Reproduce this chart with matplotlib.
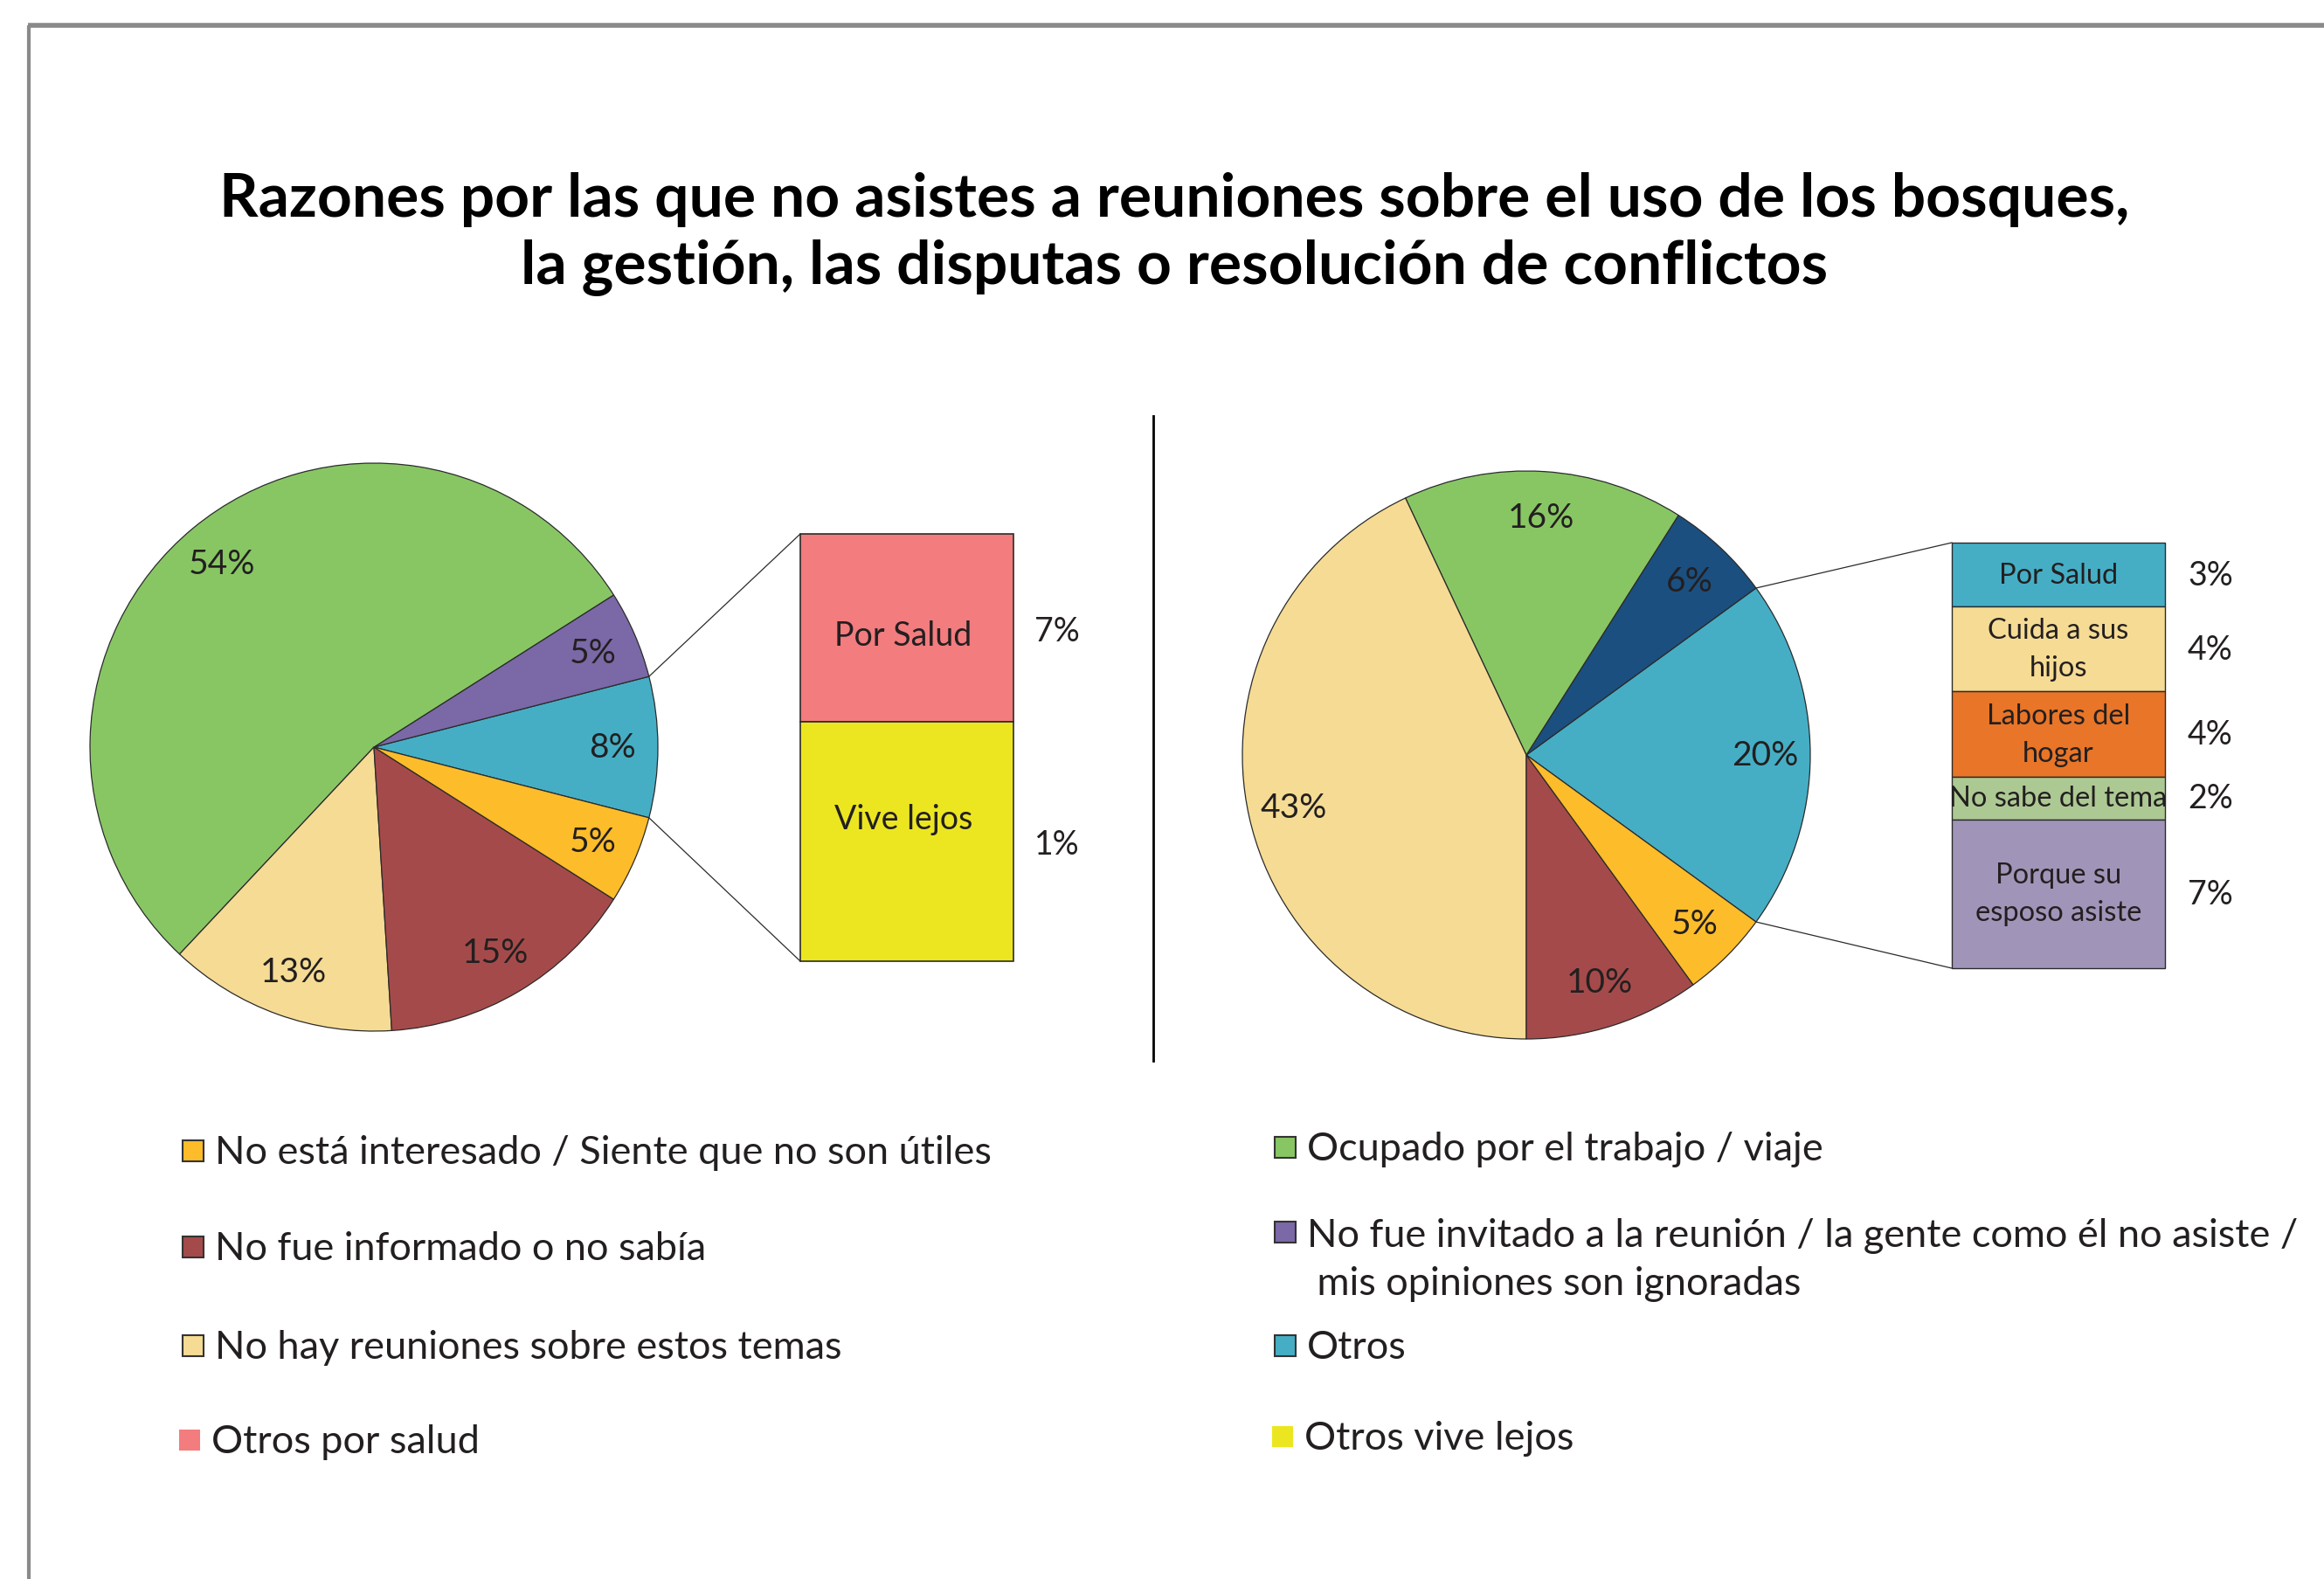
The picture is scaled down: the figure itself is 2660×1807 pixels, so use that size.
import matplotlib
matplotlib.use("Agg")
import matplotlib.pyplot as plt
from matplotlib.patches import Rectangle
import numpy as np

# ---------------- data ----------------
title = ("Razones por las que no asistes a reuniones sobre el uso de los bosques,\n"
         "la gestión, las disputas o resolución de conflictos")

left_labels = ["Otros", "No fue invitado", "Ocupado por el trabajo / viaje",
               "No hay reuniones", "No fue informado", "No está interesado"]
left_values = [8, 5, 54, 13, 15, 5]
left_colors = ["#45AEC5", "#7B68A6", "#88C664", "#F5DB94", "#A54A4A", "#FDBC2A"]

left_bar_labels = ["Por Salud", "Vive lejos"]
left_bar_pcts = ["7%", "1%"]
left_bar_shares = [44, 56]          # segment heights as drawn in the picture
left_bar_colors = ["#F27C7E", "#ECE621"]

right_labels = ["Otros", "Otro (azul oscuro)", "Ocupado por el trabajo / viaje",
                "No hay reuniones", "No fue informado", "No está interesado"]
right_values = [20, 6, 16, 43, 10, 5]
right_colors = ["#45AEC5", "#1B4F7F", "#88C664", "#F5DB94", "#A54A4A", "#FDBC2A"]

right_bar_labels = ["Por Salud", "Cuida a sus\nhijos", "Labores del\nhogar",
                    "No sabe del tema", "Porque su\nesposo asiste"]
right_bar_values = [3, 4, 4, 2, 7]
right_bar_colors = ["#45AEC5", "#F5DB94", "#E87528", "#ADC993", "#A095B8"]

legend_left = ["No está interesado / Siente que no son útiles",
               "No fue informado o no sabía",
               "No hay reuniones sobre estos temas",
               "Otros por salud"]
legend_left_colors = ["#FDBC2A", "#A54A4A", "#F5DB94", "#F27C7E"]
legend_right = ["Ocupado por el trabajo / viaje",
                "No fue invitado a la reunión / la gente como él no asiste /\n mis opiniones son ignoradas",
                "Otros",
                "Otros vive lejos"]
legend_right_colors = ["#88C664", "#7B68A6", "#45AEC5", "#ECE621"]

# ---------------- figure ----------------
W, H = 2660, 1808
plt.rcParams['font.family'] = ['Lato', 'DejaVu Sans']
TXT = "#231F20"
fig = plt.figure(figsize=(W / 100, H / 100), dpi=100)
ax = fig.add_axes([0, 0, 1, 1])


def Y(y):
    return H - y


edge = dict(edgecolor="#2b2b2b", linewidth=0.9)
R = 325

# left pie
lc = (428, Y(856))
wl, tl, al = ax.pie(left_values, colors=left_colors, startangle=-left_values[0] * 3.6 / 2,
                    counterclock=True, center=lc, radius=R, frame=True,
                    autopct=lambda p: f"{p:.0f}%", pctdistance=0.84,
                    wedgeprops=edge, textprops=dict(fontsize=28, color=TXT))

# right pie
rc = (1747, Y(865))
wr, tr, ar = ax.pie(right_values, colors=right_colors, startangle=-right_values[0] * 3.6 / 2,
                    counterclock=True, center=rc, radius=R, frame=True,
                    autopct=lambda p: f"{p:.0f}%", pctdistance=0.84,
                    wedgeprops=edge, textprops=dict(fontsize=28, color=TXT))

# left bar
lb_x0, lb_x1, lb_top, lb_bot = 916, 1160, Y(612), Y(1101)
tot = sum(left_bar_shares)
scale = (lb_top - lb_bot) / tot
bottom = lb_top
for lab, pct, v, c in zip(left_bar_labels, left_bar_pcts, left_bar_shares, left_bar_colors):
    h = v * scale
    ax.bar((lb_x0 + lb_x1) / 2, -h, bottom=bottom, width=lb_x1 - lb_x0, color=c,
           edgecolor="#2b2b2b", linewidth=1.2)
    bottom -= h
left_bar_text_y = [Y(728), Y(938)]
left_bar_pct_y = [Y(723), Y(967)]
for lab, pct, ty, py in zip(left_bar_labels, left_bar_pcts, left_bar_text_y, left_bar_pct_y):
    ax.text((lb_x0 + lb_x1) / 2 - 4, ty, lab, ha="center", va="center", fontsize=27, color=TXT)
    ax.text(1210, py, pct, ha="center", va="center", fontsize=27, color=TXT)

# connector lines left (from Otros wedge edges to bar corners)
t1, t2 = np.deg2rad(wl[0].theta2), np.deg2rad(wl[0].theta1)
p1 = (lc[0] + R * np.cos(t1), lc[1] + R * np.sin(t1))
p2 = (lc[0] + R * np.cos(t2), lc[1] + R * np.sin(t2))
ax.plot([p1[0], lb_x0], [p1[1], lb_top], color="#2b2b2b", lw=0.9)
ax.plot([p2[0], lb_x0], [p2[1], lb_bot], color="#2b2b2b", lw=0.9)

# right bar
rb_x0, rb_x1, rb_top, rb_bot = 2234, 2478, Y(622), Y(1109)
tot = sum(right_bar_values)
scale = (rb_top - rb_bot) / tot
bottom = rb_top
for lab, v, c in zip(right_bar_labels, right_bar_values, right_bar_colors):
    h = v * scale
    ax.bar((rb_x0 + rb_x1) / 2, -h, bottom=bottom, width=rb_x1 - rb_x0, color=c,
           edgecolor="#2b2b2b", linewidth=1.0)
    ax.text((rb_x0 + rb_x1) / 2, bottom - h / 2, lab, ha="center", va="center",
            fontsize=23.5, color=TXT, linespacing=1.55)
    ax.text(2530, bottom - h / 2, f"{v}%", ha="center", va="center", fontsize=27, color=TXT)
    bottom -= h

t1, t2 = np.deg2rad(wr[0].theta2), np.deg2rad(wr[0].theta1)
p1 = (rc[0] + R * np.cos(t1), rc[1] + R * np.sin(t1))
p2 = (rc[0] + R * np.cos(t2), rc[1] + R * np.sin(t2))
ax.plot([p1[0], rb_x0], [p1[1], rb_top], color="#2b2b2b", lw=0.9)
ax.plot([p2[0], rb_x0], [p2[1], rb_bot], color="#2b2b2b", lw=0.9)

# divider
ax.plot([1320, 1320], [Y(477), Y(1215)], color="black", lw=2)

# title
ax.text(1344, Y(268), title, ha="center", va="center", fontsize=50, fontweight="bold",
        color="black", linespacing=1.28)

# legends
sq = 24
LFS = 32.5
left_y = [1318, 1428, 1541, 1649]
for i, (lab, c, yy) in enumerate(zip(legend_left, legend_left_colors, left_y)):
    last = i == len(legend_left) - 1
    x0 = 205 if last else 209
    ax.add_patch(Rectangle((x0, Y(yy) - sq / 2), sq, sq, facecolor=c,
                           edgecolor="none" if last else "#333333", lw=1.5))
    ax.text(x0 + 37, Y(yy) - 2, lab, ha="left", va="center", fontsize=LFS, color=TXT)

right_sq_y = [1314, 1411, 1541, 1645]
right_txt_y = [1314, 1440, 1541, 1645]
for i, (lab, c, yy, ty) in enumerate(zip(legend_right, legend_right_colors, right_sq_y, right_txt_y)):
    last = i == len(legend_right) - 1
    x0 = 1456 if last else 1459
    ax.add_patch(Rectangle((x0, Y(yy) - sq / 2), sq, sq, facecolor=c,
                           edgecolor="none" if last else "#333333", lw=1.5))
    ax.text(x0 + 37, Y(ty) - 2, lab, ha="left", va="center",
            fontsize=LFS, color=TXT, linespacing=1.4)

# frame
ax.plot([32, W], [Y(30), Y(30)], color="#8a8a8a", lw=4, solid_capstyle="butt")
ax.plot([33, 33], [Y(30), 0], color="#8a8a8a", lw=3, solid_capstyle="butt")

ax.set_xlim(0, W)
ax.set_ylim(0, H)
ax.set_aspect("equal")
ax.axis("off")
fig.savefig("out.png", dpi=100, facecolor="white")
